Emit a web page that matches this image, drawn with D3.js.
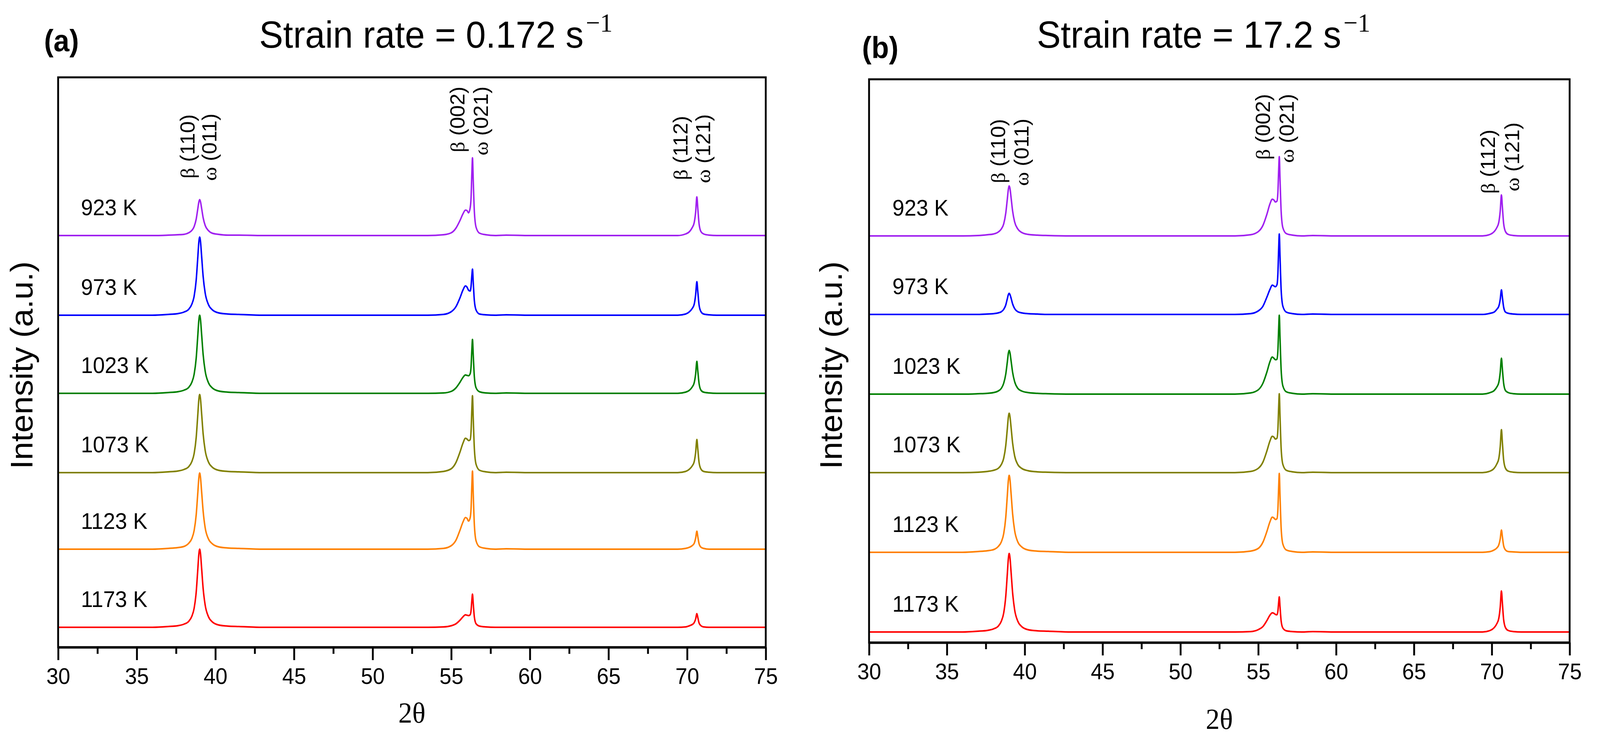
<!DOCTYPE html>
<html>
<head>
<meta charset="utf-8">
<script src="https://cdn.jsdelivr.net/npm/d3@7"></script>
<style>
  html, body { margin: 0; padding: 0; background: #ffffff; width: 100%; height: 100%; overflow: hidden; }
  svg { display: block; position: absolute; left: 0; top: 0; }
</style>
</head>
<body>
<script>
// ---------------- DATA ----------------
const temperatures = ["923 K", "973 K", "1023 K", "1073 K", "1123 K", "1173 K"];
const seriesColors = ["#a020f0", "#0000ff", "#008000", "#808000", "#ff8000", "#ff0000"];

// 2θ sampling positions shared by every pattern
const twoTheta = [
  30, 31, 32, 33, 34, 35, 36, 37,
  37.6, 38.0, 38.3, 38.5, 38.65, 38.78, 38.88, 38.95, 39.0, 39.05, 39.12, 39.22, 39.35, 39.55, 39.8, 40.2, 40.8,
  41.5, 43, 44.5, 46, 47.5, 49, 50.5, 52, 53.5,
  54.5, 55.0, 55.3, 55.55, 55.75, 55.9, 56.0, 56.1, 56.2, 56.26, 56.31, 56.35, 56.4, 56.47, 56.58, 56.8, 57.2, 57.8,
  58.5, 60, 61.5, 63, 64.5, 66, 67.5, 68.7,
  69.4, 69.9, 70.15, 70.32, 70.45, 70.54, 70.62, 70.68, 70.76, 70.88, 71.05, 71.4, 71.9,
  72.5, 73.5, 74.5, 75
];

// Intensity above each pattern's own baseline (a.u.), strain rate 0.172 s^-1
const intensityA = [
  [0,0,0,0,0,0,0,1, 2,3,7,13,23,42,68,86,92,87,71,46,26,13,6,3,1, 1,0,0,0,0,0,0,0,0, 2,7,19,38,56,65,64,58,70,97,160,199,139,61,21,6,2,0, 1,0,0,0,0,0,0,0, 0,4,10,20,33,59,99,69,30,10,4,1,0, 0,0,0,0],
  [0,0,0,0,0,0,0,2, 4,8,15,28,49,90,147,188,200,190,154,100,57,28,14,6,3, 2,0,0,0,0,0,0,0,0, 2,9,22,44,65,75,72,64,62,74,102,118,83,37,13,3,1,0, 1,0,0,0,0,0,0,0, 0,3,9,17,28,52,86,60,26,9,3,1,0, 0,0,0,0],
  [0,0,0,0,0,0,0,2, 4,8,15,28,49,90,147,188,200,190,154,100,57,28,14,6,3, 2,0,0,0,0,0,0,0,0, 1,5,14,28,41,47,46,45,50,68,112,138,97,42,14,4,1,0, 1,0,0,0,0,0,0,0, 0,3,8,16,27,49,82,57,25,8,3,1,0, 0,0,0,0],
  [0,0,0,0,0,0,0,2, 4,8,15,28,49,90,147,188,200,190,154,100,57,28,14,6,3, 2,0,0,0,0,0,0,0,0, 3,10,26,52,76,88,86,82,84,106,163,197,138,61,21,6,2,0, 1,0,0,0,0,0,0,0, 0,3,9,17,28,51,85,60,26,9,3,1,0, 0,0,0,0],
  [0,0,0,0,0,0,0,2, 4,7,15,27,48,88,143,183,195,185,150,98,55,27,14,6,3, 2,0,0,0,0,0,0,0,0, 2,9,23,48,70,81,79,72,80,104,164,200,140,62,21,6,2,0, 1,0,0,0,0,0,0,0, 0,2,5,9,15,28,46,32,14,5,2,0,0, 0,0,0,0],
  [0,0,0,0,0,0,0,2, 4,8,15,28,49,90,147,188,200,190,154,100,57,28,14,6,3, 2,0,0,0,0,0,0,0,0, 1,4,9,18,27,32,31,30,32,43,69,85,60,26,9,3,1,0, 0,0,0,0,0,0,0,0, 0,1,4,7,12,21,35,25,11,4,1,0,0, 0,0,0,0]
];

// Intensity above baseline (a.u.), strain rate 17.2 s^-1
const intensityB = [
  [0,0,0,0,0,0,0,1, 3,5,10,18,31,58,94,120,128,122,99,64,36,18,9,4,2, 1,0,0,0,0,0,0,0,0, 3,11,27,55,82,94,92,87,89,111,169,203,142,63,21,6,2,0, 1,0,0,0,0,0,0,0, 0,4,11,21,35,63,105,74,32,11,4,1,0, 0,0,0,0],
  [0,0,0,0,0,0,0,0, 1,2,4,7,13,24,40,51,54,51,42,27,15,7,4,2,1, 0,0,0,0,0,0,0,0,0, 2,9,21,44,64,75,73,71,76,104,168,206,145,63,21,6,2,0, 1,0,0,0,0,0,0,0, 0,3,6,13,21,38,63,44,19,6,3,1,0, 0,0,0,0],
  [0,0,0,0,0,0,0,1, 2,4,8,15,28,51,82,105,112,106,86,56,32,15,8,4,2, 1,0,0,0,0,0,0,0,0, 3,11,28,56,83,95,92,88,89,111,168,202,141,62,21,6,2,0, 1,0,0,0,0,0,0,0, 0,4,9,18,30,55,92,64,28,9,4,1,0, 0,0,0,0],
  [0,0,0,0,0,0,0,1, 3,6,11,21,37,69,112,143,152,144,117,76,43,21,11,5,2, 1,0,0,0,0,0,0,0,0, 3,11,27,55,81,93,91,86,88,110,168,202,141,62,21,6,2,0, 1,0,0,0,0,0,0,0, 0,4,11,22,36,66,110,77,33,11,4,1,0, 0,0,0,0],
  [0,0,0,0,0,0,0,2, 4,7,15,27,48,89,145,185,197,187,152,99,56,27,14,6,3, 2,0,0,0,0,0,0,0,0, 3,10,26,53,78,90,88,84,86,109,167,202,141,62,21,6,2,0, 1,0,0,0,0,0,0,0, 0,2,6,11,19,34,57,40,17,6,2,1,0, 0,0,0,0],
  [0,0,0,0,0,0,0,2, 4,8,15,28,49,91,148,189,201,191,155,101,57,28,14,6,3, 2,0,0,0,0,0,0,0,0, 1,6,14,29,43,49,48,45,44,53,76,90,63,28,10,3,1,0, 1,0,0,0,0,0,0,0, 0,4,11,21,35,63,105,74,32,11,4,1,0, 0,0,0,0]
];

// vertical stacking offsets of each pattern (a.u.)
const offsetsA = [1054, 850, 650, 447, 251, 51];
const offsetsB = [1041, 840, 636, 435, 231, 27];

// x axis ticks
const majorTicks = [30, 35, 40, 45, 50, 55, 60, 65, 70, 75];
const minorTicks = [32.5, 37.5, 42.5, 47.5, 52.5, 57.5, 62.5, 67.5, 72.5];

// reflection labels
const betaPlanes = ["(110)", "(002)", "(112)"];
const omegaPlanes = ["(011)", "(021)", "(121)"];
const betaPosA = [38.35, 55.5, 69.7];
const omegaPosA = [39.74, 57.0, 71.13];
const betaPosB = [38.4, 55.42, 69.86];
const omegaPosB = [39.9, 56.94, 71.43];
const betaLevelA = [1200, 1267, 1196];
const omegaLevelA = [1194, 1259, 1188];
const betaLevelB = [1176, 1236, 1149];
const omegaLevelB = [1169, 1228, 1155];

const titles = ["Strain rate = 0.172 s", "Strain rate = 17.2 s"];
const panelTags = ["(a)", "(b)"];

// ---------------- DRAWING ----------------
const W = 4321, H = 1915;
const SANS = "'Liberation Sans', Arial, Helvetica, sans-serif";
const SERIF = "'Liberation Serif', 'Times New Roman', serif";

const svg = d3.select("body").append("svg")
  .attr("width", "100%").attr("height", "100%")
  .style("width", "100vw").style("height", "100vh")
  .attr("viewBox", `0 0 ${W} ${H}`)
  .attr("preserveAspectRatio", "none");

svg.append("rect").attr("width", W).attr("height", H).attr("fill", "#fff");

const panels = [
  { left: 157, right: 2068, top: 198, bottom: 1657, data: intensityA, offsets: offsetsA,
    betaPos: betaPosA, omegaPos: omegaPosA, betaLevel: betaLevelA, omegaLevel: omegaLevelA,
    labelX: 31.45, title: titles[0], titleX: 700, tag: panelTags[0], tagX: 119, tagY: 131,
    ylabX: 66, xlabY: 1850 },
  { left: 2347, right: 4239, top: 203, bottom: 1645, data: intensityB, offsets: offsetsB,
    betaPos: betaPosB, omegaPos: omegaPosB, betaLevel: betaLevelB, omegaLevel: omegaLevelB,
    labelX: 31.5, title: titles[1], titleX: 2800, tag: panelTags[1], tagX: 2328, tagY: 149,
    ylabX: 2252, xlabY: 1866 }
];

panels.forEach(p => {
  const g = svg.append("g");
  const x = d3.scaleLinear().domain([30, 75]).range([p.left, p.right]);
  const y = d3.scaleLinear().domain([0, p.bottom - p.top]).range([p.bottom, p.top]);

  // patterns
  p.data.forEach((vals, si) => {
    const line = d3.line()
      .x((d, i) => x(twoTheta[i]))
      .y(d => y(p.offsets[si] + d))
      .curve(d3.curveMonotoneX);
    g.append("path")
      .datum(vals)
      .attr("d", line)
      .attr("fill", "none")
      .attr("stroke", seriesColors[si])
      .attr("stroke-width", 4)
      .attr("stroke-linejoin", "round");

    g.append("text")
      .attr("x", x(p.labelX))
      .attr("y", y(p.offsets[si] + 52))
      .attr("font-family", SANS)
      .attr("font-size", 58)
      .attr("fill", "#000")
      .text(temperatures[si]);
  });

  // reflection labels (rotated)
  const addPeakLabel = (pos, level, greek, plane) => {
    const t = g.append("text")
      .attr("transform", `translate(${x(pos)},${y(level)}) rotate(-90)`)
      .attr("dy", "0.26em")
      .attr("font-size", 54)
      .attr("fill", "#000");
    t.append("tspan").attr("font-family", SERIF).text(greek);
    t.append("tspan").attr("font-family", SANS).text("\u00a0" + plane);
  };
  betaPlanes.forEach((pl, k) => addPeakLabel(p.betaPos[k], p.betaLevel[k], "\u03b2", pl));
  omegaPlanes.forEach((pl, k) => addPeakLabel(p.omegaPos[k], p.omegaLevel[k], "\u03c9", pl));

  // frame
  g.append("rect")
    .attr("x", p.left).attr("y", p.top)
    .attr("width", p.right - p.left).attr("height", p.bottom - p.top)
    .attr("fill", "none").attr("stroke", "#000").attr("stroke-width", 5);

  // bottom axis: major ticks with labels
  const gx = g.append("g").attr("transform", `translate(0,${p.bottom})`)
    .call(d3.axisBottom(x).tickValues(majorTicks).tickSize(33).tickSizeOuter(0)
      .tickPadding(20).tickFormat(d3.format("d")));
  gx.select(".domain").attr("stroke", "#000").attr("stroke-width", 6);
  gx.selectAll(".tick line").attr("stroke", "#000").attr("stroke-width", 5);
  gx.selectAll(".tick text").attr("font-family", SANS).attr("font-size", 58).attr("fill", "#000");

  // minor ticks
  const gm = g.append("g").attr("transform", `translate(0,${p.bottom})`)
    .call(d3.axisBottom(x).tickValues(minorTicks).tickSize(17).tickSizeOuter(0).tickFormat(""));
  gm.select(".domain").remove();
  gm.selectAll(".tick line").attr("stroke", "#000").attr("stroke-width", 5);

  // axis titles
  g.append("text")
    .attr("transform", `translate(${p.ylabX},935) rotate(-90)`)
    .attr("text-anchor", "middle")
    .attr("dy", "0.26em")
    .attr("font-family", SANS)
    .attr("font-size", 84)
    .attr("fill", "#000")
    .text("Intensity (a.u.)");

  g.append("text")
    .attr("x", (p.left + p.right) / 2)
    .attr("y", p.xlabY)
    .attr("text-anchor", "middle")
    .attr("font-family", SERIF)
    .attr("font-size", 75)
    .attr("fill", "#000")
    .text("2\u03b8");

  // title
  const tt = g.append("text")
    .attr("x", p.titleX).attr("y", 122)
    .attr("font-family", SANS)
    .attr("font-size", 97)
    .attr("fill", "#000");
  tt.append("tspan").text(p.title);
  tt.append("tspan").attr("font-family", SERIF).attr("font-size", 68)
    .attr("dx", 6).attr("dy", -41).text("\u22121");

  // panel tag
  g.append("text")
    .attr("x", p.tagX).attr("y", p.tagY)
    .attr("font-family", SANS)
    .attr("font-weight", "bold")
    .attr("font-size", 77)
    .attr("fill", "#000")
    .text(p.tag);
});
</script>
</body>
</html>
